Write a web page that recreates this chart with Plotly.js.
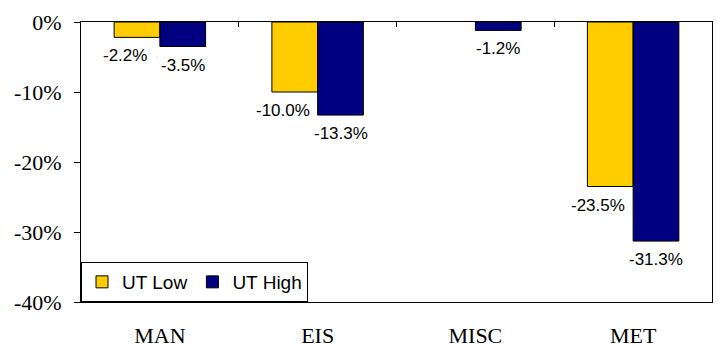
<!DOCTYPE html>
<html>
<head>
<meta charset="utf-8">
<script src="https://cdn.plot.ly/plotly-3.0.1.min.js"></script>
<style>html,body{margin:0;padding:0;background:#fff;}#chart{width:718px;height:349px;}</style>
</head>
<body>
<div id="chart"></div>
<script>
var categories = ["MAN", "EIS", "MISC", "MET"];
var seriesNames = ["UT Low", "UT High"];
var utLow = [-2.2, -10.0, null, -23.5];
var utHigh = [-3.5, -13.3, -1.2, -31.3];
var yTicks = [0, -10, -20, -30, -40];
var colors = ["#FFCC00", "#000080"];

var serif = "Liberation Serif";
var sans = "Liberation Sans";

var W = 718, H = 349;
var margin = {l: 81, r: 6, t: 22, b: 47, pad: 0};
var bargap = 0.42;
var catW = (W - margin.l - margin.r) / categories.length;
var barW = catW * (1 - bargap) / 2;

var traces = [utLow, utHigh].map(function (vals, i) {
  return {
    type: "bar",
    name: seriesNames[i],
    x: categories,
    y: vals,
    marker: {color: colors[i], line: {color: "#000", width: 1}},
    hoverinfo: "skip"
  };
});
// transparent zero-height helper so the top category-boundary tick axis is drawn
traces.push({
  type: "bar",
  x: categories, y: categories.map(function () { return 0; }),
  xaxis: "x2", yaxis: "y", showlegend: false, hoverinfo: "skip",
  marker: {color: "rgba(0,0,0,0)"}
});

var annotations = [];
[utLow, utHigh].forEach(function (vals, i) {
  vals.forEach(function (v, j) {
    if (v === null) return;
    annotations.push({
      x: categories[j], y: v, xref: "x", yref: "y",
      text: v.toFixed(1) + "%",
      showarrow: false,
      yanchor: "top",
      xanchor: "center",
      yshift: -7,
      xshift: i === 0 ? -barW / 2 - 12 : barW / 2,
      font: {family: sans, size: 17, color: "#000"}
    });
  });
});

var layout = {
  width: W, height: H,
  margin: margin,
  font: {family: serif, size: 21, color: "#000"},
  paper_bgcolor: "#fff",
  plot_bgcolor: "#fff",
  barmode: "group",
  bargap: bargap,
  bargroupgap: 0,
  showlegend: true,
  legend: {
    orientation: "h",
    x: 0, y: 0, xanchor: "left", yanchor: "bottom",
    bgcolor: "#fff", bordercolor: "#000", borderwidth: 1,
    font: {family: sans, size: 19, color: "#000"},
    itemwidth: 30, tracegroupgap: 0
  },
  xaxis: {
    type: "category",
    categoryorder: "array", categoryarray: categories,
    range: [-0.5, categories.length - 0.5],
    showline: true, mirror: true, linecolor: "#000", linewidth: 1,
    ticks: "", showgrid: false, zeroline: false,
    ticklabelstandoff: 14,
    tickfont: {family: serif, size: 22, color: "#000"},
    fixedrange: true
  },
  xaxis2: {
    type: "category",
    categoryorder: "array", categoryarray: categories,
    overlaying: "x", side: "top", anchor: "y",
    range: [-0.5, categories.length - 0.5],
    tickson: "boundaries",
    ticks: "inside", ticklen: 5, tickcolor: "#000", tickwidth: 1,
    showticklabels: false, showline: false, showgrid: false, zeroline: false
  },
  yaxis: {
    range: [-40, 0],
    tickmode: "array",
    tickvals: yTicks,
    ticktext: yTicks.map(function (t) { return t + "%"; }),
    showline: true, mirror: true, linecolor: "#000", linewidth: 1,
    ticks: "outside", ticklen: 6, tickcolor: "#000", tickwidth: 1,
    ticklabelstandoff: 8,
    showgrid: false, zeroline: false,
    tickfont: {family: serif, size: 22, color: "#000"},
    fixedrange: true
  },
  annotations: annotations
};

Plotly.newPlot("chart", traces, layout, {displayModeBar: false, staticPlot: true});
</script>
</body>
</html>
